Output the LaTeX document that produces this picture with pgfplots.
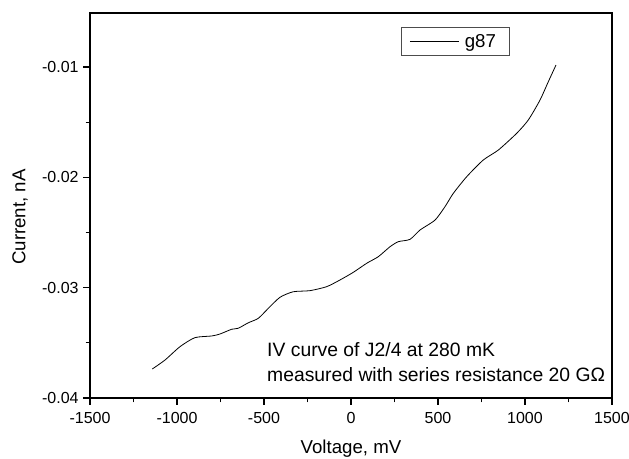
\documentclass[border=0pt]{standalone}
\usepackage{fontspec}
\setmainfont{Liberation Sans}
\usepackage{pgfplots}
\pgfplotsset{compat=1.18}
\usetikzlibrary{calc}

\pgfplotstableread{
V I
-1142 -0.03737
-1069 -0.03656
-983 -0.03535
-897 -0.03453
-801 -0.03438
-753 -0.03420
-686 -0.03377
-648 -0.03368
-590 -0.03318
-533 -0.03278
-475 -0.03187
-408 -0.03087
-332 -0.03037
-236 -0.03027
-140 -0.02991
-63 -0.02930
13 -0.02861
90 -0.02779
157 -0.02719
224 -0.02629
272 -0.02583
339 -0.02562
397 -0.02477
483 -0.02387
540 -0.02266
588 -0.02145
665 -0.01994
760 -0.01843
847 -0.01752
952 -0.01601
1019 -0.01480
1086 -0.01300
1134 -0.01133
1178 -0.00982
}\ivdata

\begin{document}
\begin{tikzpicture}
\begin{axis}[
  name=ax,
  scale only axis,
  width=391.5pt, height=288.75pt,
  xmin=-1500, xmax=1500,
  ymin=-0.04, ymax=-0.0051,
  xtick={-1500,-1000,...,1500},
  ytick={-0.04,-0.03,-0.02,-0.01},
  scaled y ticks=false,
  minor x tick num=1,
  minor y tick num=1,
  axis line style={line width=1pt},
  every tick/.style={line width=0.9pt,black},
  tick align=outside,
  major tick length=5pt,
  minor tick length=3.2pt,
  xtick pos=bottom, ytick pos=left,
  /pgf/number format/assume math mode=true,
  /pgf/number format/set thousands separator={},
  tick label style={font=\fontsize{12}{14}\selectfont},
  xticklabel style={yshift=-2.5pt},
  yticklabel style={/pgf/number format/fixed,/pgf/number format/precision=2},
  xlabel={Voltage, mV},
  ylabel={Current, nA},
  label style={font=\fontsize{14}{16}\selectfont},
  xlabel style={at={(axis description cs:0.5,-0.1325)},anchor=center},
  ylabel style={at={(axis description cs:-0.134,0.47)},anchor=center},
  legend style={at={(rel axis cs:0.5958,0.9636)},anchor=north west,
    draw=black!70, line width=0.6pt, inner xsep=6pt, inner ysep=3pt,
    font=\fontsize{14}{16}\selectfont,
    nodes={inner xsep=4pt}},
  legend cell align=left,
  legend image code/.code={\draw[#1] (0pt,0pt) -- (37pt,0pt);},
]
\addplot[black, line width=0.6pt, smooth, tension=0.4] table[x=V,y=I] {\ivdata};
\addlegendentry{g87}
\node[anchor=north west, align=left, inner sep=0pt,
  font=\fontsize{14.5}{18.75}\selectfont]
  at (axis cs:-483,-0.0349)
  {IV curve of J2/4 at 280 mK\\measured with series resistance 20 GΩ};
\coordinate (O) at (rel axis cs:0,0);
\end{axis}
\pgfresetboundingbox
\path[use as bounding box] ($(O)+(-67.5pt,-45.75pt)$) rectangle ++(471.75pt,344.25pt);
\end{tikzpicture}
\end{document}
